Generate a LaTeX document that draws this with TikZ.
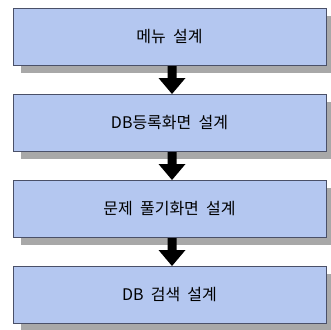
\documentclass[tikz,border=0pt]{standalone}
\usepackage{fontspec}
\usetikzlibrary{calc}
\newfontfamily\kr[WordSpace=2.0]{Noto Sans CJK KR}
\definecolor{boxfill}{HTML}{B4C7F0}
\definecolor{boxline}{HTML}{4A5068}
\definecolor{shadowc}{HTML}{A8A8A8}
\begin{document}
\begin{tikzpicture}[x=1pt,y=-1pt,
  stepbox/.style={draw=boxline, line width=1pt, fill=boxfill, minimum width=313pt, minimum height=57pt, inner sep=0pt, font=\kr\fontsize{16}{19}\selectfont},
  flowarrow/.style={fill=black, draw=none}]
\useasboundingbox (0,0) rectangle (331,329);
% shadows
\foreach \t in {8,94,180,266}{
  \fill[shadowc] (21,\t+8) rectangle (334,\t+65);
}
\node[stepbox] (b1) at (169.5,37) {메뉴 설계};
\node[stepbox] (b2) at (169.5,123) {DB등록화면 설계};
\node[stepbox] (b3) at (169.5,209) {문제 풀기화면 설계};
\node[stepbox] (b4) at (169.5,295) {DB 검색 설계};
\foreach \a/\b in {b1/b2,b2/b3,b3/b4}{
  \path (\a.south) ++(2.5,0) coordinate (s);
  \path (\b.north) ++(2.5,0) coordinate (e);
  \fill[flowarrow] ($(s)+(-4.5,0)$) -- ($(s)+(4.5,0)$) -- ($(e)+(4.5,-16)$) -- ($(e)+(13.5,-16)$) -- (e) -- ($(e)+(-13.5,-16)$) -- ($(e)+(-4.5,-16)$) -- cycle;
}
\end{tikzpicture}
\end{document}
